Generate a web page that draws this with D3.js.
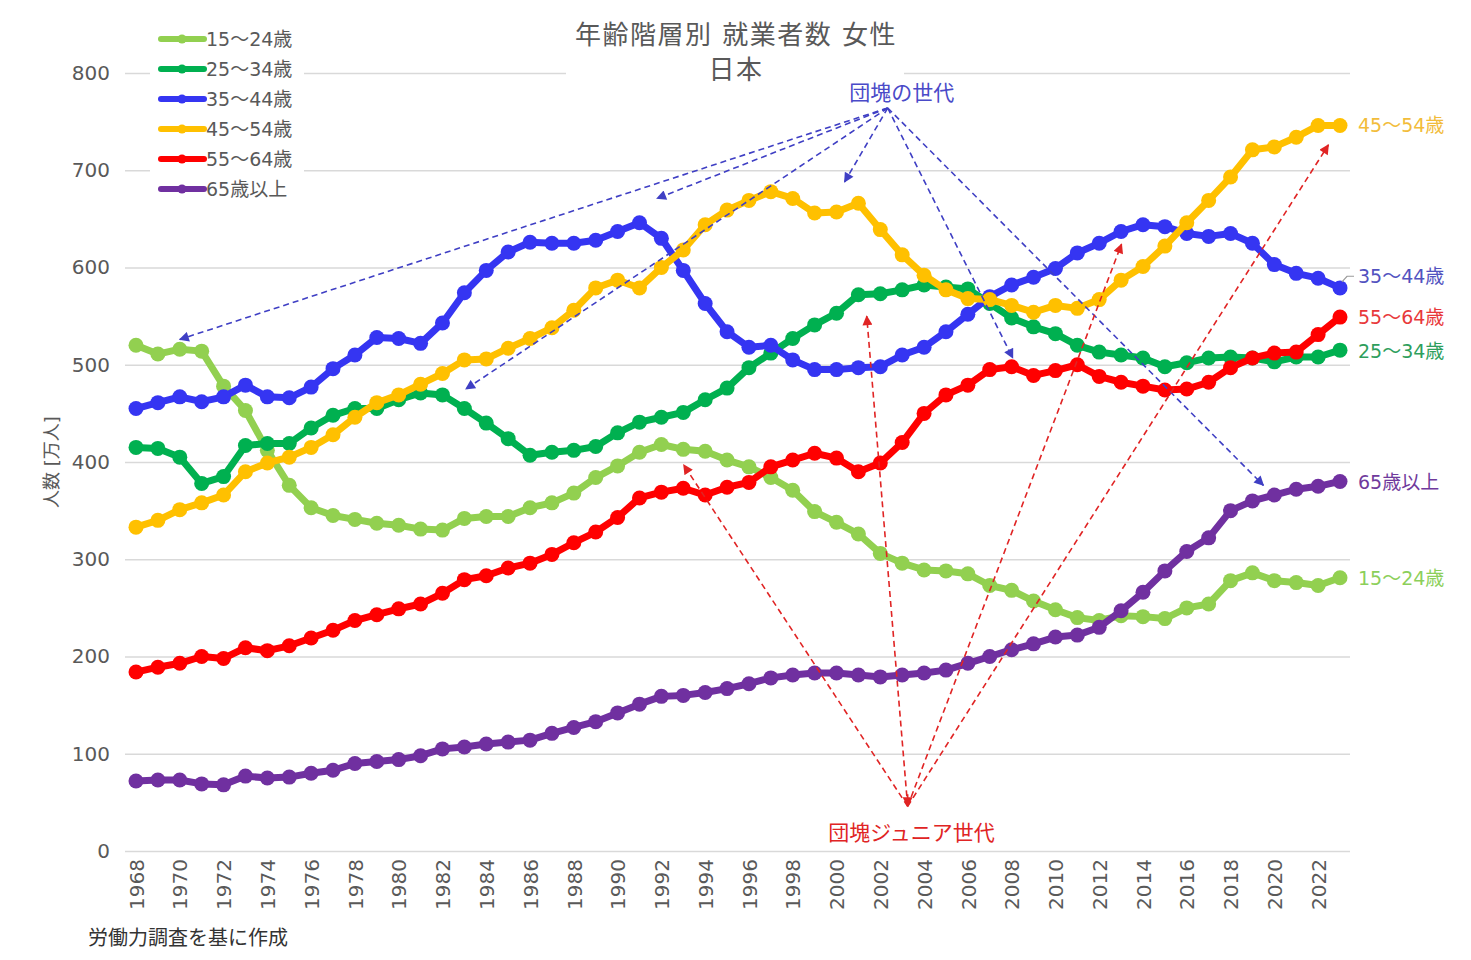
<!DOCTYPE html>
<html><head><meta charset="utf-8">
<script src="https://cdn.jsdelivr.net/npm/d3@7"></script>
<style>
body{margin:0;background:#fff}
svg{display:block}
text{font-family:"DejaVu Sans","Noto Sans CJK JP",sans-serif}
</style>
</head><body><svg id="c" width="1471" height="960"></svg>
<script>
// ---------- data ----------
const years = d3.range(1968, 2024);
const s15_24 = [520,511,516,514,478,453,412,376,353,345,
                341,337,335,331,330,342,344,344,353,358,
                368,384,396,410,418,413,411,402,395,384,
                371,349,338,326,306,296,289,288,285,273,
                268,257,248,240,237,242,241,239,250,254,
                278,286,278,276,273,281];
const s25_34 = [415,414,405,378,385,417,419,419,435,448,
                455,455,464,471,469,455,440,424,407,410,
                412,416,430,441,446,451,464,476,497,512,
                527,541,553,572,573,577,582,580,578,563,
                548,539,532,520,513,510,507,498,502,507,
                508,507,503,508,508,515];
const s35_44 = [455,461,467,462,467,479,467,466,477,496,
                510,528,527,522,543,574,597,616,626,625,
                625,628,637,646,630,597,563,534,518,520,
                505,495,495,497,498,510,518,534,552,570,
                582,590,599,615,625,637,644,642,635,632,
                635,625,603,594,589,579];
const s45_54 = [333,340,351,358,366,390,399,405,415,428,
                446,461,469,480,491,505,506,517,527,538,
                556,579,587,579,600,618,644,659,669,678,
                671,656,657,666,639,613,592,577,568,567,
                561,554,561,558,567,587,601,622,646,669,
                693,721,724,734,746,746];
const s55_64 = [184,189,193,200,198,209,206,211,219,227,
                237,243,249,254,265,279,283,291,296,305,
                317,328,343,363,369,373,366,374,379,395,
                402,409,404,390,399,420,450,469,479,495,
                498,489,494,500,488,482,478,474,475,482,
                497,507,512,513,531,549];
const s65 =    [72,73,73,69,68,77,75,76,80,83,
                90,92,94,98,105,107,110,112,114,121,
                127,133,142,151,159,160,163,167,172,178,
                181,183,183,181,179,181,183,186,193,200,
                207,213,220,222,230,247,266,288,308,322,
                350,360,366,372,375,380];

const seriesNames  = ["15～24歳","25～34歳","35～44歳","45～54歳","55～64歳","65歳以上"];
const seriesValues = [s15_24, s25_34, s35_44, s45_54, s55_64, s65];
const seriesColors = ["#92D050","#00B050","#3535F2","#FFC000","#FF0000","#7030A0"];
const endLabelColors = ["#8ccf5a","#2e9e5c","#5252c0","#f2bc3a","#e8383a","#6f3a9c"];
const endLabelValues = [281, 514, 591, 746, 549, 379];

const yTicks = [0,100,200,300,400,500,600,700,800];
const xTicks = d3.range(1968, 2024, 2);

const titleLines = ["年齢階層別 就業者数 女性", "日本"];
const yTitle = "人数 [万人]";
const sourceText = "労働力調査を基に作成";

// annotations in data coordinates [year, value]
const boomerLabel = "団塊の世代";
const boomerLabelPos = [2002.98, 780];
const boomerOrigin = [2002.34, 764];
const boomerTargets = [[1970.0, 526], [1991.8, 671], [1983.07, 475], [2000.37, 688], [2008.05, 507], [2019.5, 376]];
const juniorLabel = "団塊ジュニア世代";
const juniorLabelPos = [2003.43, 19];
const juniorOrigin = [2003.25, 46];
const juniorTargets = [[1993.02, 397], [2001.38, 550], [2013.02, 624], [2022.47, 726]];

// ---------- layout ----------
const svg = d3.select("#c");
const x = d3.scaleLinear().domain([1968, 2023]).range([136, 1340]);
const y = d3.scaleLinear().domain([0, 800]).range([851, 73]);
const gridLeft = 125, gridRight = 1350;
const textGray = "#595959";

// y axis + gridlines
const yAxis = svg.append("g").attr("transform", `translate(${gridLeft},0)`)
  .call(d3.axisLeft(y).tickValues(yTicks).tickSize(-(gridRight - gridLeft)).tickPadding(15).tickFormat(d3.format("d")));
yAxis.select(".domain").remove();
yAxis.selectAll(".tick line").attr("stroke", "#d9d9d9").attr("stroke-width", 1.6);
yAxis.selectAll(".tick text").attr("fill", textGray).style("font-size", "20px");

// x axis
const xAxis = svg.append("g").attr("transform", `translate(0,${y(0)})`)
  .call(d3.axisBottom(x).tickValues(xTicks).tickSize(0).tickFormat(d3.format("d")));
xAxis.select(".domain").remove();
xAxis.selectAll(".tick text")
  .attr("transform", "rotate(-90)")
  .attr("text-anchor", "end")
  .attr("x", -8).attr("y", 0).attr("dy", "0.36em")
  .attr("fill", textGray).style("font-size", "20px");

// white backgrounds for legend and title
svg.append("rect").attr("x", 150).attr("y", 22).attr("width", 154).attr("height", 182).attr("fill", "#fff");
svg.append("rect").attr("x", 566).attr("y", 14).attr("width", 338).attr("height", 76).attr("fill", "#fff");

// y title
svg.append("text").attr("transform", `translate(58,${(y(0)+y(800))/2}) rotate(-90)`)
  .attr("text-anchor", "middle").attr("fill", textGray).style("font-size", "18px").text(yTitle);

// title
svg.selectAll(".title").data(titleLines).enter().append("text")
  .attr("x", 736).attr("y", (d, i) => 44 + i * 35)
  .attr("text-anchor", "middle").attr("fill", textGray).style("font-size", "26px")
  .style("letter-spacing", "1.5px").text(d => d);

// source
svg.append("text").attr("x", 88).attr("y", 945).attr("fill", "#333").style("font-size", "20px").text(sourceText);

// series
const line = d3.line().x((d, i) => x(years[i])).y(d => y(d));
seriesValues.forEach((vals, k) => {
  const g = svg.append("g");
  g.append("path").datum(vals).attr("d", line).attr("fill", "none")
    .attr("stroke", seriesColors[k]).attr("stroke-width", 7).attr("stroke-linejoin", "round");
  g.selectAll("circle").data(vals).enter().append("circle")
    .attr("cx", (d, i) => x(years[i])).attr("cy", d => y(d)).attr("r", 7.5)
    .attr("fill", seriesColors[k]);
});

// legend
seriesNames.forEach((name, k) => {
  const ly = 39 + k * 30;
  svg.append("line").attr("x1", 161).attr("x2", 204).attr("y1", ly).attr("y2", ly)
    .attr("stroke", seriesColors[k]).attr("stroke-width", 6).attr("stroke-linecap", "round");
  svg.append("circle").attr("cx", 182).attr("cy", ly).attr("r", 4.5).attr("fill", seriesColors[k]);
  svg.append("text").attr("x", 206).attr("y", ly).attr("dy", "0.36em")
    .attr("fill", textGray).style("font-size", "19px").text(name);
});

// end labels
seriesNames.forEach((name, k) => {
  svg.append("text").attr("x", 1358).attr("y", y(endLabelValues[k])).attr("dy", "0.36em")
    .attr("fill", endLabelColors[k]).style("font-size", "19px").text(name);
});
// leader for 35~44
svg.append("path")
  .attr("d", `M${x(2023)+2},${y(s35_44[55])-6} L1347,${y(endLabelValues[2])} L1354,${y(endLabelValues[2])}`)
  .attr("fill", "none").attr("stroke", "#9a9a9a").attr("stroke-width", 1.2);

// annotation arrows
const defs = svg.append("defs");
function mk(id, color) {
  defs.append("marker").attr("id", id).attr("viewBox", "0 0 10 10").attr("refX", 9).attr("refY", 5)
    .attr("markerWidth", 11).attr("markerHeight", 10).attr("markerUnits", "userSpaceOnUse")
    .attr("orient", "auto").append("path").attr("d", "M0,0 L10,5 L0,10 Z").attr("fill", color);
}
const blueAnn = "#3f3fc4", redAnn = "#e02424";
mk("ab", blueAnn); mk("ar", redAnn);

boomerTargets.forEach(t => {
  svg.append("line").attr("x1", x(boomerOrigin[0])).attr("y1", y(boomerOrigin[1]))
    .attr("x2", x(t[0])).attr("y2", y(t[1]))
    .attr("stroke", blueAnn).attr("stroke-width", 1.6).attr("stroke-dasharray", "6,4")
    .attr("marker-end", "url(#ab)");
});
juniorTargets.forEach(t => {
  svg.append("line").attr("x1", x(juniorOrigin[0])).attr("y1", y(juniorOrigin[1]))
    .attr("x2", x(t[0])).attr("y2", y(t[1]))
    .attr("stroke", redAnn).attr("stroke-width", 1.6).attr("stroke-dasharray", "6,4")
    .attr("marker-end", "url(#ar)");
});
// small downward head at the junior origin
svg.append("line").attr("x1", x(juniorOrigin[0])).attr("y1", y(juniorOrigin[1]) - 12)
  .attr("x2", x(juniorOrigin[0])).attr("y2", y(juniorOrigin[1]))
  .attr("stroke", redAnn).attr("stroke-width", 1.6).attr("stroke-dasharray", "4,3")
  .attr("marker-end", "url(#ar)");

svg.append("text").attr("x", x(boomerLabelPos[0])).attr("y", y(boomerLabelPos[1])).attr("dy", "0.36em")
  .attr("text-anchor", "middle").attr("fill", "#4a4ac8").style("font-size", "21px").text(boomerLabel);
svg.append("text").attr("x", x(juniorLabelPos[0])).attr("y", y(juniorLabelPos[1])).attr("dy", "0.36em")
  .attr("text-anchor", "middle").attr("fill", redAnn).style("font-size", "21px").text(juniorLabel);
</script>
</body></html>
